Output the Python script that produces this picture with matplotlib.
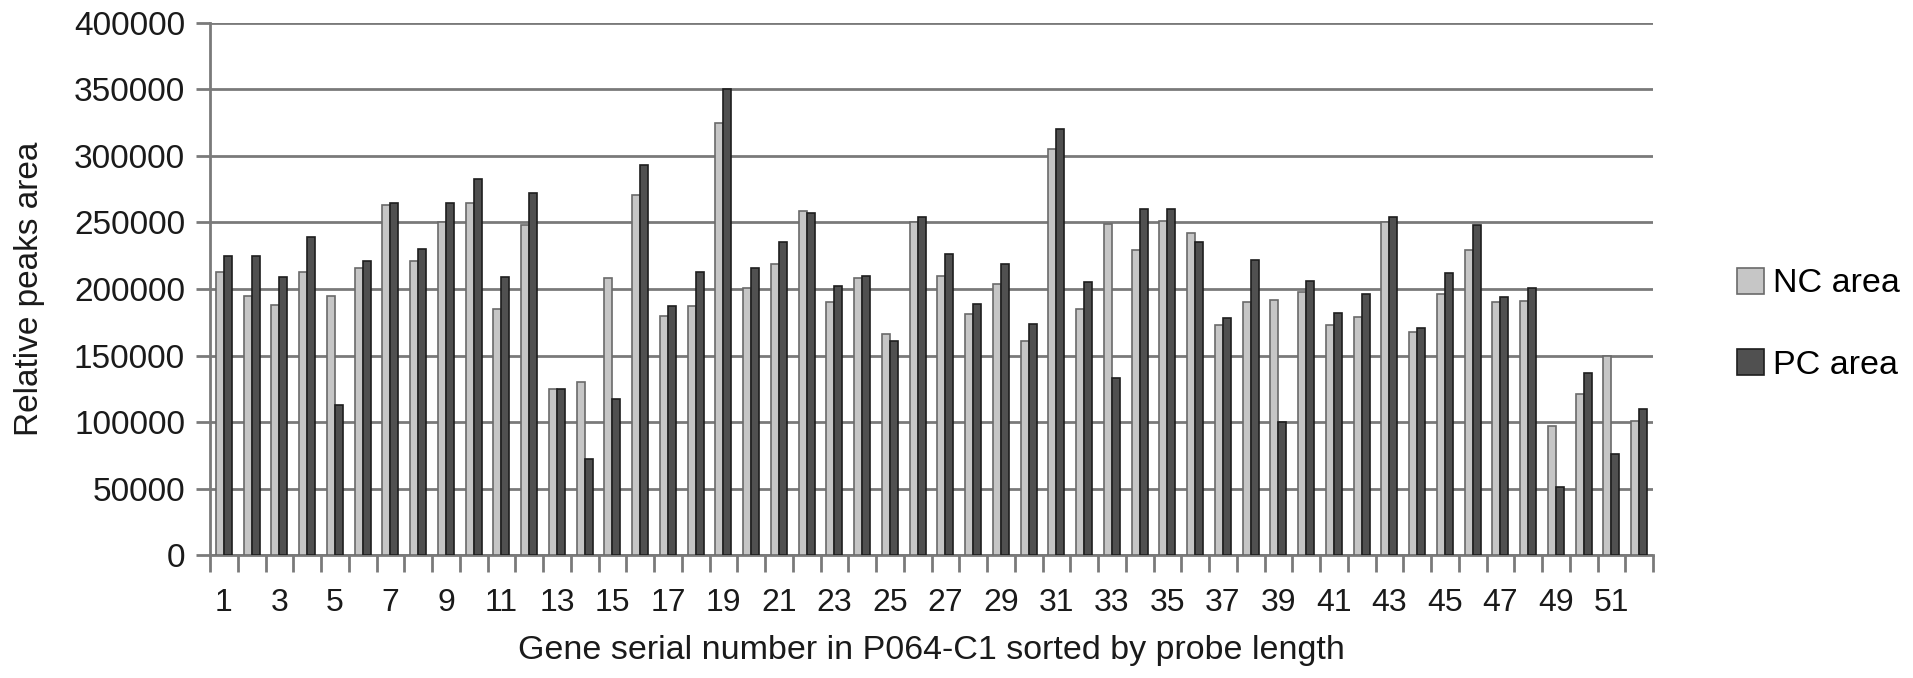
import matplotlib
matplotlib.use("Agg")
import matplotlib.pyplot as plt
import numpy as np
from matplotlib.ticker import FixedLocator, NullFormatter

# gene serial numbers 1..52
genes = list(range(1, 53))

nc_area = [213000, 195000, 188000, 213000, 195000, 216000, 263000, 221000, 250000, 265000,
           185000, 248000, 125000, 130000, 208000, 271000, 180000, 187000, 325000, 201000,
           219000, 259000, 190000, 208000, 166000, 250000, 210000, 181000, 204000, 161000,
           305000, 185000, 249000, 229000, 251000, 242000, 173000, 190000, 192000, 198000,
           173000, 179000, 250000, 168000, 196000, 229000, 190000, 191000, 97000, 121000,
           150000, 101000]

pc_area = [225000, 225000, 209000, 239000, 113000, 221000, 265000, 230000, 265000, 283000,
           209000, 272000, 125000, 72000, 117000, 293000, 187000, 213000, 350000, 216000,
           235000, 257000, 202000, 210000, 161000, 254000, 226000, 189000, 219000, 174000,
           320000, 205000, 133000, 260000, 260000, 235000, 178000, 222000, 100000, 206000,
           182000, 196000, 254000, 171000, 212000, 248000, 194000, 201000, 51000, 137000,
           76000, 110000]

yticks = [0, 50000, 100000, 150000, 200000, 250000, 300000, 350000, 400000]

plt.rcParams['font.family'] = ['Liberation Sans', 'DejaVu Sans']
text_col = '#1a1a1a'

fig = plt.figure(figsize=(19.13, 6.78), dpi=100)
ax = fig.add_axes([0.1098, 0.1814, 0.7543, 0.7847])

x = np.arange(len(genes))
w = 0.29
grid_col = '#7a7a7a'

ax.bar(x - 0.145, nc_area, width=w, color='#c6c6c6', edgecolor='#6a6a6a',
       linewidth=1.2, label='NC area', zorder=3)
ax.bar(x + 0.145, pc_area, width=w, color='#505050', edgecolor='#1e1e1e',
       linewidth=1.2, label='PC area', zorder=3)

ax.set_xlim(-0.5, len(genes) - 0.5)
ax.set_ylim(0, 400000)

# y axis
ax.set_yticks(yticks)
ax.set_yticklabels([str(v) for v in yticks])
ax.yaxis.grid(True, color=grid_col, linewidth=2, zorder=0)
ax.tick_params(axis='y', length=10, width=2, color=grid_col, pad=8,
               labelsize=24, labelcolor=text_col)

# x axis: ticks at group boundaries, labels on odd genes
ax.xaxis.set_major_locator(FixedLocator(np.arange(-0.5, len(genes), 1.0)))
ax.xaxis.set_major_formatter(NullFormatter())
odd_pos = [i for i in x if genes[i] % 2 == 1]
ax.xaxis.set_minor_locator(FixedLocator(odd_pos))
ax.set_xticklabels([str(genes[i]) for i in odd_pos], minor=True)
ax.tick_params(axis='x', which='major', length=12, width=2, color=grid_col, direction='out')
ax.tick_params(axis='x', which='minor', length=0, pad=24, labelsize=23, labelcolor=text_col)

for s in ['top', 'right']:
    ax.spines[s].set_visible(False)
for s in ['left', 'bottom']:
    ax.spines[s].set_color(grid_col)
    ax.spines[s].set_linewidth(2)

ax.set_xlabel('Gene serial number in P064-C1 sorted by probe length', fontsize=24.5,
              color=text_col)
ax.xaxis.set_label_coords(0.5, -0.15)
ax.set_ylabel('Relative peaks area', fontsize=24, color=text_col)
ax.yaxis.set_label_coords(-0.1145, 0.5)

ax.legend(loc='center left', bbox_to_anchor=(1.058, 0.434), frameon=False,
          fontsize=24.5, handlelength=0.8, handleheight=0.8, labelspacing=1.45,
          handletextpad=0.28, borderpad=0, borderaxespad=0)

fig.savefig('out.png', dpi=100)
